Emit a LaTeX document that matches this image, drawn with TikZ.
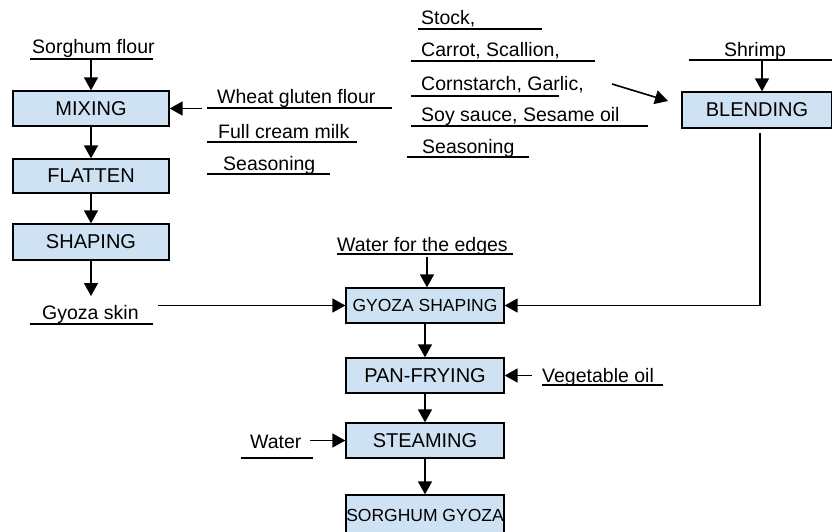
\documentclass[tikz,border=0pt]{standalone}
\usepackage{fontspec}
\setmainfont{Liberation Sans}
\usetikzlibrary{arrows.meta}
\definecolor{boxblue}{HTML}{CFE2F3}
\begin{document}
\begin{tikzpicture}[x=1pt,y=-1pt,
  stepbox/.style={draw=black, line width=1.3pt, fill=boxblue, minimum width=156pt, minimum height=35pt, inner sep=0pt, font=\fontsize{20}{22}\selectfont},
  smallbox/.style={stepbox, font=\fontsize{17.5}{20}\selectfont},
  lbl/.style={anchor=base west, inner sep=0pt, font=\fontsize{19.5}{22}\selectfont},
  uline/.style={line width=1.3pt},
  flow/.style={line width=1.6pt, -{Triangle[width=14pt,length=13pt]}}
]
\useasboundingbox (0,0) rectangle (832,531);
\clip (0,0) rectangle (832,531);

% process boxes
\node[stepbox] (mix) at (91,108.5) {MIXING};
\node[stepbox, minimum height=34pt] (flat) at (91,176) {FLATTEN};
\node[stepbox, minimum height=36pt] (shape) at (91,242) {SHAPING};
\node[stepbox, minimum width=150pt, minimum height=36pt] (blend) at (757,110) {BLENDING};
\node[smallbox, minimum width=158pt] (gyoza) at (425,305.5) {GYOZA SHAPING};
\node[stepbox, minimum width=158pt] (pan) at (425,375.5) {PAN-FRYING};
\node[stepbox, minimum width=158pt] (steam) at (425,440.5) {STEAMING};
\node[smallbox, minimum width=158pt, minimum height=40pt] (sg) at (425,515) {SORGHUM GYOZA};

% left inputs
\node[lbl] (sorg) at (32,53) {Sorghum flour};
\draw[uline] (30,59) -- (153,59);
\coordinate (sorgP) at (91,59);
\draw[flow] (sorgP) -- (mix.north);

\node[lbl] (wheat) at (217,103) {Wheat gluten flour};
\draw[uline] (207,108) -- (392,108);
\node[lbl] (milk) at (218,138) {Full cream milk};
\draw[uline] (207,142) -- (357,142);
\node[lbl] (seas1) at (223,170) {Seasoning};
\draw[uline] (207,174) -- (330,174);
\coordinate (wheatA) at (202,108.5);
\draw[flow] (wheatA) -- (mix.east);

\draw[flow] (mix) -- (flat);
\draw[flow] (flat) -- (shape);
\coordinate (skinTop) at (91,296);
\draw[flow] (shape.south) -- (skinTop);

\node[lbl] (skin) at (42,319) {Gyoza skin};
\draw[uline] (30,324) -- (153,324);
\coordinate (skinA) at (158,305.5);
\draw[flow] (skinA) -- (gyoza.west);

% filling ingredients
\node[lbl] (stock) at (421,24) {Stock,};
\draw[uline] (418,29) -- (542,29);
\node[lbl] (carrot) at (421,56) {Carrot, Scallion,};
\draw[uline] (411,61) -- (595,61);
\node[lbl] (corn) at (421,90) {Cornstarch, Garlic,};
\draw[uline] (411,96) -- (559,96);
\node[lbl] (soy) at (421,121) {Soy sauce, Sesame oil};
\draw[uline] (411,126) -- (648,126);
\node[lbl] (seas2) at (422,153) {Seasoning};
\draw[uline] (407,157) -- (529,157);
\coordinate (ingA) at (612,84);
\coordinate (ingB) at (668,101);
\draw[flow] (ingA) -- (ingB);

\node[anchor=base, inner sep=0pt, font=\fontsize{19.5}{22}\selectfont] (shrimp) at (755,56) {Shrimp};
\draw[uline] (689,60) -- (832,60);
\coordinate (shrimpP) at (762,60);
\draw[flow] (shrimpP) -- (shrimpP |- blend.north);

\coordinate (bl) at (760,133);
\draw[flow] (bl) |- (gyoza.east);

% middle column
\node[lbl] (wfe) at (337,251) {Water for the edges};
\draw[uline] (337,254) -- (513,254);
\coordinate (wfeP) at (427,257);
\draw[flow] (wfeP) -- (wfeP |- gyoza.north);

\draw[flow] (gyoza) -- (pan);
\draw[flow] (pan) -- (steam);
\draw[flow] (steam) -- (sg);

\node[lbl] (veg) at (542,382) {Vegetable oil};
\draw[uline] (542,385) -- (663,385);
\coordinate (vegA) at (532,375.5);
\draw[flow] (vegA) -- (pan.east);

\node[lbl] (water) at (250,448) {Water};
\draw[uline] (241,458) -- (313,458);
\coordinate (waterA) at (310,440.5);
\draw[flow] (waterA) -- (steam.west);
\end{tikzpicture}
\end{document}
